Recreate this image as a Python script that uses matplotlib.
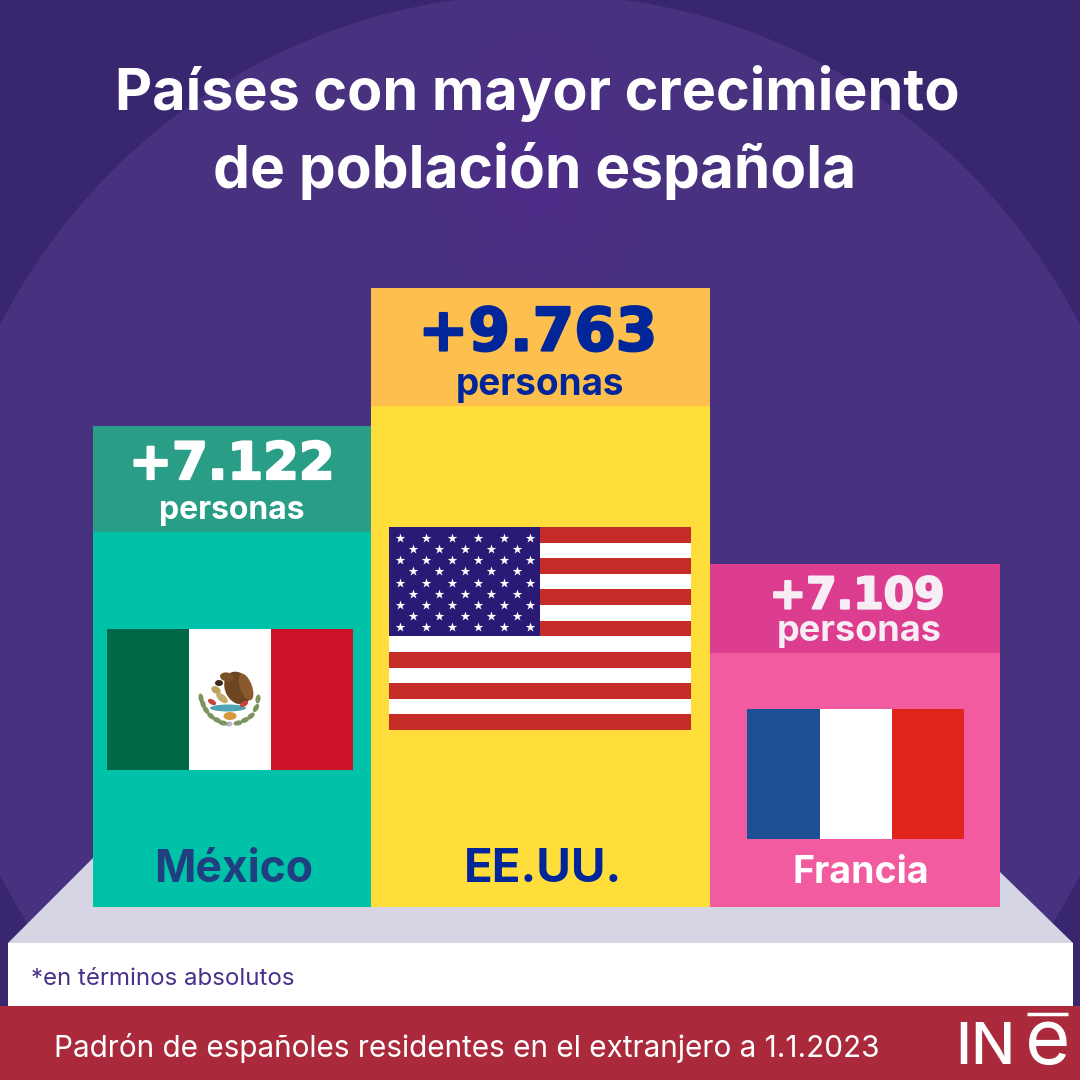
#!/usr/bin/env python3
"""Paises con mayor crecimiento de poblacion espanola, podio con banderas."""

import matplotlib
matplotlib.use('Agg')
import matplotlib.pyplot as plt
import matplotlib.patheffects as pe
from matplotlib.colors import to_rgb
from matplotlib.patches import Circle, Polygon, Rectangle, Ellipse
import numpy as np

# ── datos ──
paises = ['México', 'EE.UU.', 'Francia']
valores = ['+7.122', '+9.763', '+7.109']
unidad = 'personas'
alto_podio = [481, 619, 343]      # px
alto_cabecera = [106, 118, 89]

# ── geometria y estilo ──
BASE = 907
izq = [93, 371, 710]
ancho = [278, 339, 290]
col_cuerpo = ['#00C2A8', '#FFDD3A', '#F25BA0']
col_cabecera = ['#2A9D87', '#FDBF4D', '#DD3D8F']
col_valor = ['#FFFFFF', '#00269A', '#F6EEF4']
col_unidad = ['#FFFFFF', '#00269A', '#F6EEF4']
col_pais = ['#1F3F80', '#00269A', '#FFFFFF']
size_valor = [37, 43, 31.5]
size_unidad = [23, 26.6, 26]
size_pais = [32, 34, 27]
y_valor = [465, 334, 596]
y_unidad = [510, 385, 632]
y_pais = [870, 870, 873]
x_valor = [232, 538, 857]
x_unidad = [232, 540, 859]
x_pais = [234, 543, 861]

fig = plt.figure(figsize=(10.8, 10.8), dpi=100)
ax = fig.add_axes([0, 0, 1, 1])
ax.set_xlim(0, 1080)
ax.set_ylim(1080, 0)
ax.axis('off')
ax.add_patch(Rectangle((0, 0), 1080, 1080, fc='#38276F', ec='none', zorder=0))
ax.add_patch(Circle((540, 600), 606, fc='#483280', ec='none', zorder=0.5))

# brillo central del fondo
gx, gy = np.meshgrid(np.arange(400, 681), np.arange(20, 320))
brillo = np.zeros(gx.shape + (4,))
brillo[..., :3] = to_rgb('#4E2D88')
brillo[..., 3] = np.exp(-((gx - 540) / 85.0) ** 2 - ((gy - 170) / 110.0) ** 2)
ax.imshow(brillo, extent=(400, 680, 320, 20), aspect='auto', zorder=0.6)
ax.set_xlim(0, 1080)
ax.set_ylim(1080, 0)

# plataforma
ax.add_patch(Polygon([(93, 858), (1000, 872), (1073, 943), (8, 943)], fc='#D6D5E4', ec='none', zorder=1))
ax.add_patch(Rectangle((8, 943), 1065, 63, fc='#FFFFFF', ec='none', zorder=1))
ax.add_patch(Rectangle((0, 1006), 1080, 74, fc='#AA2A3C', ec='none', zorder=1))

# podio
tops = [BASE - h for h in alto_podio]
ax.bar(izq, alto_podio, width=ancho, bottom=tops, align='edge', color=col_cuerpo, zorder=2)
ax.bar(izq, alto_cabecera, width=ancho, bottom=tops, align='edge', color=col_cabecera, zorder=2.1)

for i in range(3):
    t = ax.text(x_valor[i], y_valor[i], valores[i], ha='center', va='center', fontsize=size_valor[i],
                color=col_valor[i], family='DejaVu Sans', fontweight='bold', zorder=5)
    t.set_path_effects([pe.withStroke(linewidth=1.6, foreground=col_valor[i])])
    ax.text(x_unidad[i], y_unidad[i], unidad, ha='center', va='center', fontsize=size_unidad[i],
            color=col_unidad[i], family='Inter', fontweight='bold', zorder=5)
    ax.text(x_pais[i], y_pais[i], paises[i], ha='center', va='center', fontsize=size_pais[i],
            color=col_pais[i], family='Inter', fontweight='bold', zorder=5)


def rect(x0, y0, x1, y1, color, z=3):
    ax.add_patch(Rectangle((x0, y0), x1 - x0, y1 - y0, fc=color, ec='none', zorder=z))


def oval(x, y, w, h, ang, color, z=3.3):
    ax.add_patch(Ellipse((x, y), w, h, angle=ang, fc=color, ec='none', zorder=z))


# ── Mexico ──
rect(107, 629, 189, 770, '#006847')
rect(189, 629, 271, 770, '#FFFFFF')
rect(271, 629, 353, 770, '#CE1126')
oval(238, 688, 26, 34, -25, '#6E4522', 3.2)
oval(246, 687, 12, 28, -20, '#8A5A2E', 3.25)
oval(227, 677, 14, 9, 10, '#7A5228')
oval(219, 683, 8, 6, 0, '#3A2A18')
oval(216, 690, 10, 7, 30, '#B9A25E')
oval(222, 698, 14, 7, 40, '#C0AC68')
oval(228, 708, 36, 7, 0, '#4FA3B5')
oval(212, 702, 9, 5, 30, '#C2473A')
oval(244, 704, 9, 5, -30, '#C2473A')
oval(230, 716, 13, 8, 0, '#D9973C', 3.4)
oval(229, 724, 7, 5, 0, '#B9B6C6')
hojas_x = [201, 203, 206, 211, 217, 223, 238, 245, 251, 256, 258]
hojas_y = [698, 704, 710, 716, 720, 723, 723, 720, 716, 708, 699]
hojas_a = [80, 70, 55, 40, 25, 10, -10, -25, -40, -60, -80]
for hx, hy, ha_ in zip(hojas_x, hojas_y, hojas_a):
    oval(hx, hy, 9, 5, ha_, '#7B9460')

# ── EE.UU. ──
n_franjas = 13
alto_franja = (730 - 527) / n_franjas
for k in range(n_franjas):
    rect(389, 527 + k * alto_franja, 691, 527 + (k + 1) * alto_franja, '#C52B27' if k % 2 == 0 else '#FFFFFF')
rect(389, 527, 540, 636, '#2A1A75', z=3.2)
sx, sy = [], []
for fila in range(9):
    cols = 6 if fila % 2 == 0 else 5
    x0 = 399.5 if fila % 2 == 0 else 412.5
    for c in range(cols):
        sx.append(x0 + c * 26.1)
        sy.append(537.7 + fila * 11.2)
ax.scatter(sx, sy, s=52, marker='*', c='#FFFFFF', linewidths=0, zorder=3.4)

# ── Francia ──
rect(747, 709, 820, 839, '#1C4F94')
rect(820, 709, 892, 839, '#FFFFFF')
rect(892, 709, 964, 839, '#DF251C')

# ── titulo y notas ──
ax.text(537, 93, 'Países con mayor crecimiento', ha='center', va='center', fontsize=41.4,
        color='white', family='Inter', fontweight='bold', zorder=5)
ax.text(535, 171, 'de población española', ha='center', va='center', fontsize=42.2,
        color='white', family='Inter', fontweight='bold', zorder=5)
ax.text(31, 979, '*en términos absolutos', ha='left', va='center', fontsize=17.3,
        color='#49308A', family='Inter', zorder=5)
ax.text(54, 1048, 'Padrón de españoles residentes en el extranjero a 1.1.2023', ha='left', va='center',
        fontsize=21.4, color='#FFFFFF', family='Inter', zorder=5)

# logo INE
ax.text(955, 1064, 'IN', ha='left', va='baseline', fontsize=42, color='#FFFFFF', family='Inter', fontweight='medium', zorder=5)
ax.text(1025, 1064, 'e', ha='left', va='baseline', fontsize=56, color='#FFFFFF', family='Inter', zorder=5)
ax.plot([1027, 1068], [1014, 1014], color='#FFFFFF', lw=2.5, solid_capstyle='butt', zorder=5)

fig.savefig('out.png', dpi=100)
